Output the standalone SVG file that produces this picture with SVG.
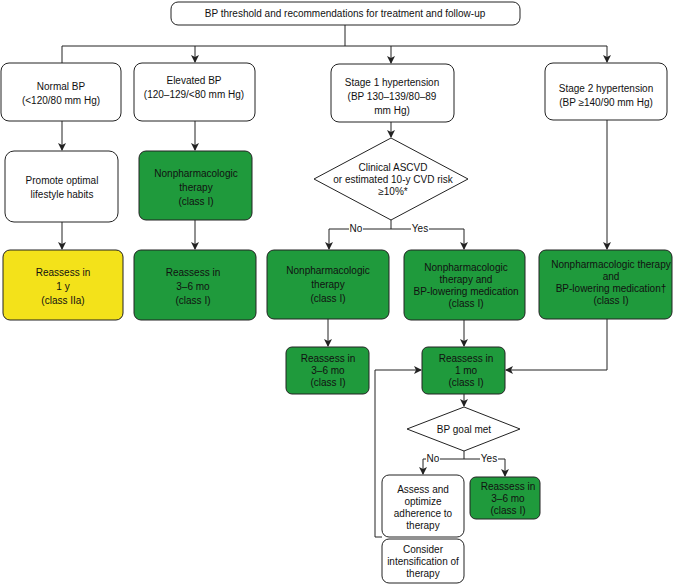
<svg xmlns="http://www.w3.org/2000/svg" width="675" height="584" viewBox="0 0 675 584">
<defs>
<marker id="ar" markerWidth="8" markerHeight="8" refX="7" refY="4" orient="auto" markerUnits="userSpaceOnUse"><path d="M0,0 L8,4 L0,8 L2,4 Z" fill="#222"/></marker>
<style>
.b{fill:#fff;stroke:#222;stroke-width:1}
.g{fill:#1f9a3c;stroke:#222;stroke-width:1}
.y{fill:#f3e21a;stroke:#222;stroke-width:1}
text{font-family:"Liberation Sans",Arial,sans-serif;font-size:10px;fill:#111;text-anchor:middle}
.c{fill:none;stroke:#222;stroke-width:1}
</style>
</defs>
<rect width="675" height="584" fill="#fff"/>
<g id="connectors">
<path class="c" d="M345,25 V46 M62,46 H607"/>
<path class="c" d="M62,46 V63"/>
<path class="c" d="M195,46 V62" marker-end="url(#ar)"/>
<path class="c" d="M391,46 V63" marker-end="url(#ar)"/>
<path class="c" d="M607,46 V62" marker-end="url(#ar)"/>
<path class="c" d="M62,121 V150" marker-end="url(#ar)"/>
<path class="c" d="M195,121 V150" marker-end="url(#ar)"/>
<path class="c" d="M391,122 V137" marker-end="url(#ar)"/>
<path class="c" d="M62,222 V249" marker-end="url(#ar)"/>
<path class="c" d="M195,220 V249" marker-end="url(#ar)"/>
<path class="c" d="M391,220 V229 M329,229 H464"/>
<path class="c" d="M329,229 V249" marker-end="url(#ar)"/>
<path class="c" d="M464,229 V249" marker-end="url(#ar)"/>
<path class="c" d="M607,120 V249" marker-end="url(#ar)"/>
<path class="c" d="M328,319 V346" marker-end="url(#ar)"/>
<path class="c" d="M464,320 V346" marker-end="url(#ar)"/>
<path class="c" d="M607,319 V370 H506" marker-end="url(#ar)"/>
<path class="c" d="M382,537 H375 V370 H421" marker-end="url(#ar)"/>
<path class="c" d="M464,394 V406" marker-end="url(#ar)"/>
<path class="c" d="M464,451 V459 M423,459 H505"/>
<path class="c" d="M423,459 V474" marker-end="url(#ar)"/>
<path class="c" d="M505,459 V476" marker-end="url(#ar)"/>
<rect x="426" y="453" width="14" height="11" fill="#fff"/><text x="433" y="462">No</text>
<rect x="480" y="453" width="18" height="11" fill="#fff"/><text x="489" y="462">Yes</text>
<rect x="349" y="223" width="14" height="11" fill="#fff"/><text x="356" y="232">No</text>
<rect x="411" y="223" width="18" height="11" fill="#fff"/><text x="420" y="232">Yes</text>
</g>
<g id="top"><rect class="b" x="171" y="2" width="349" height="23" rx="7"/><text x="345" y="17">BP threshold and recommendations for treatment and follow-up</text></g>
<g id="normal"><rect class="b" x="1" y="63" width="120" height="58" rx="8"/><text x="61" y="90">Normal BP</text><text x="61" y="104">(&lt;120/80 mm Hg)</text></g>
<g id="elevated"><rect class="b" x="134" y="63" width="121" height="58" rx="8"/><text x="194" y="84">Elevated BP</text><text x="194" y="98">(120–129/&lt;80 mm Hg)</text></g>
<g id="stage1"><rect class="b" x="331" y="64" width="123" height="58" rx="8"/><text x="392" y="86">Stage 1 hypertension</text><text x="392" y="100">(BP 130–139/80–89</text><text x="392" y="114">mm Hg)</text></g>
<g id="stage2"><rect class="b" x="545" y="63" width="122" height="57" rx="8"/><text x="606" y="92">Stage 2 hypertension</text><text x="606" y="106">(BP ≥140/90 mm Hg)</text></g>
<g id="promote"><rect class="b" x="5" y="151" width="113" height="71" rx="9"/><text x="62" y="184">Promote optimal</text><text x="62" y="198">lifestyle habits</text></g>
<g id="nonpharm1"><rect class="g" x="139" y="151" width="113" height="69" rx="7"/><text x="196" y="177">Nonpharmacologic</text><text x="196" y="191">therapy</text><text x="196" y="205">(class I)</text></g>
<g id="ascvd"><polygon class="b" points="391,138 468,179 391,220 314,179"/><text x="393" y="171">Clinical ASCVD</text><text x="393" y="183">or estimated 10-y CVD risk</text><text x="393" y="195">≥10%*</text></g>
<g id="reassess1y"><rect class="y" x="3" y="250" width="120" height="70" rx="7"/><text x="63" y="276">Reassess in</text><text x="63" y="290">1 y</text><text x="63" y="304">(class IIa)</text></g>
<g id="reassess36a"><rect class="g" x="134" y="250" width="122" height="70" rx="7"/><text x="193" y="276">Reassess in</text><text x="193" y="290">3–6 mo</text><text x="193" y="304">(class I)</text></g>
<g id="nonpharm2"><rect class="g" x="267" y="250" width="122" height="69" rx="7"/><text x="328" y="274">Nonpharmacologic</text><text x="328" y="288">therapy</text><text x="328" y="302">(class I)</text></g>
<g id="nonpharmmed"><rect class="g" x="404" y="250" width="121" height="70" rx="7"/><text x="466" y="271">Nonpharmacologic</text><text x="466" y="283">therapy and</text><text x="466" y="295">BP-lowering medication</text><text x="466" y="307">(class I)</text></g>
<g id="stage2tx"><rect class="g" x="539" y="250" width="133" height="69" rx="7"/><text x="611" y="268">Nonpharmacologic therapy</text><text x="611" y="280">and</text><text x="611" y="292">BP-lowering medication†</text><text x="611" y="304">(class I)</text></g>
<g id="reassess36b"><rect class="g" x="286" y="347" width="83" height="47" rx="6"/><text x="328" y="362">Reassess in</text><text x="328" y="374">3–6 mo</text><text x="328" y="386">(class I)</text></g>
<g id="reassess1mo"><rect class="g" x="422" y="347" width="83" height="47" rx="6"/><text x="466" y="362">Reassess in</text><text x="466" y="374">1 mo</text><text x="466" y="386">(class I)</text></g>
<g id="goal"><polygon class="b" points="464,407 520,429 464,451 407,429"/><text x="464" y="433">BP goal met</text></g>
<g id="assess"><rect class="b" x="382" y="475" width="82" height="62" rx="7"/><text x="423" y="493">Assess and</text><text x="423" y="505">optimize</text><text x="423" y="517">adherence to</text><text x="423" y="529">therapy</text></g>
<g id="reassess36c"><rect class="g" x="470" y="477" width="70" height="42" rx="6"/><text x="508" y="490">Reassess in</text><text x="508" y="502">3–6 mo</text><text x="508" y="514">(class I)</text></g>
<g id="consider"><rect class="b" x="382" y="539" width="82" height="44" rx="7"/><text x="423" y="553">Consider</text><text x="423" y="565">intensification of</text><text x="423" y="577">therapy</text></g>
</svg>
